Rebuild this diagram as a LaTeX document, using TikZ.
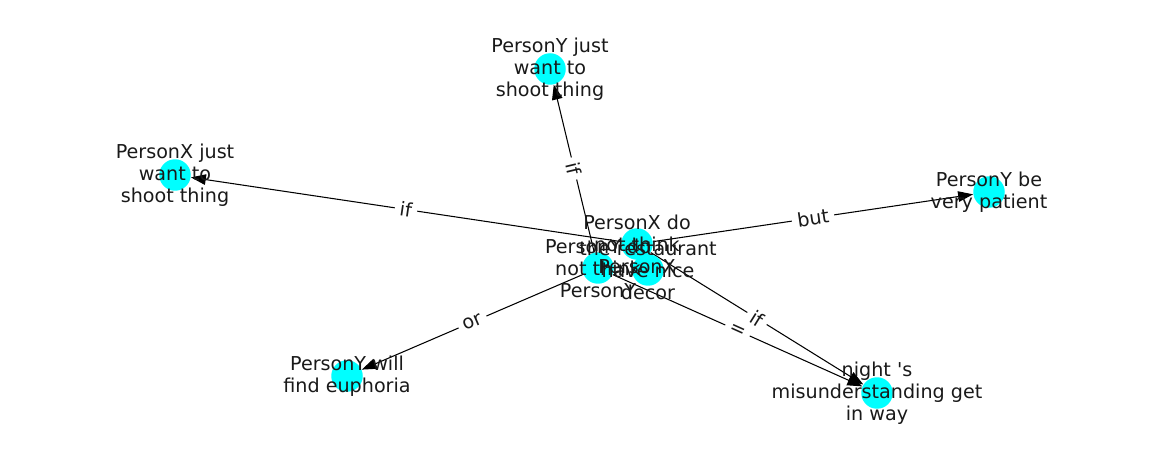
\documentclass[tikz,border=0pt]{standalone}
\usepackage{fontspec}
\setmainfont{DejaVu Sans}
\usetikzlibrary{arrows.meta}
\definecolor{aqua}{RGB}{0,255,255}
\pgfdeclarelayer{bg}
\pgfsetlayers{bg,main}

\begin{document}
\begin{tikzpicture}[x=0.02cm,y=-0.02cm,
	dot/.style={circle,fill=aqua,minimum size=0.63cm,inner sep=0pt},
	txt/.style={align=center,font=\fontsize{10.9}{12.5}\selectfont,inner sep=0pt,text=black!90},
	rel/.style={-{Triangle[length=8.5pt,width=6pt]},line width=0.6pt},
	lab/.style={midway,sloped,fill=white,inner sep=3pt,text=black!90,font=\fontsize{10.9}{12.5}\selectfont}]
	\useasboundingbox (0,0) rectangle (1162,462);
	% nodes
	\foreach \n/\x/\y in {ya/550/69,xa/175/175,yb/989/192,yc/347/376,ni/877/393,m/637/244,l/598/268,r/648/270}
		\node[dot] (\n) at (\x,\y) {};
	% edges
	\begin{pgfonlayer}{bg}
		\draw[rel] (l) -- node[lab]{if} (ya);
		\draw[rel] (m) -- node[lab]{if} (xa);
		\draw[rel] (m) -- node[lab]{but} (yb);
		\draw[rel] (l) -- node[lab]{or} (yc);
		\draw[rel] (m) -- node[lab]{if} (ni);
		\draw[rel] (l) -- node[lab]{=} (ni);
	\end{pgfonlayer}
	% texts
	\foreach \n/\t in {ya/{PersonY just\\want to\\shoot thing},
		xa/{PersonX just\\want to\\shoot thing},
		yb/{PersonY be\\very patient},
		yc/{PersonY will\\find euphoria},
		ni/{night \textquotesingle s\\misunderstanding get\\in way},
		m/{PersonX do\\not think\\PersonX},
		l/{PersonY do\\not think\\PersonY},
		r/{the restaurant\\have nice\\decor}}
		\node[txt] at (\n) {\t};
\end{tikzpicture}
\end{document}
